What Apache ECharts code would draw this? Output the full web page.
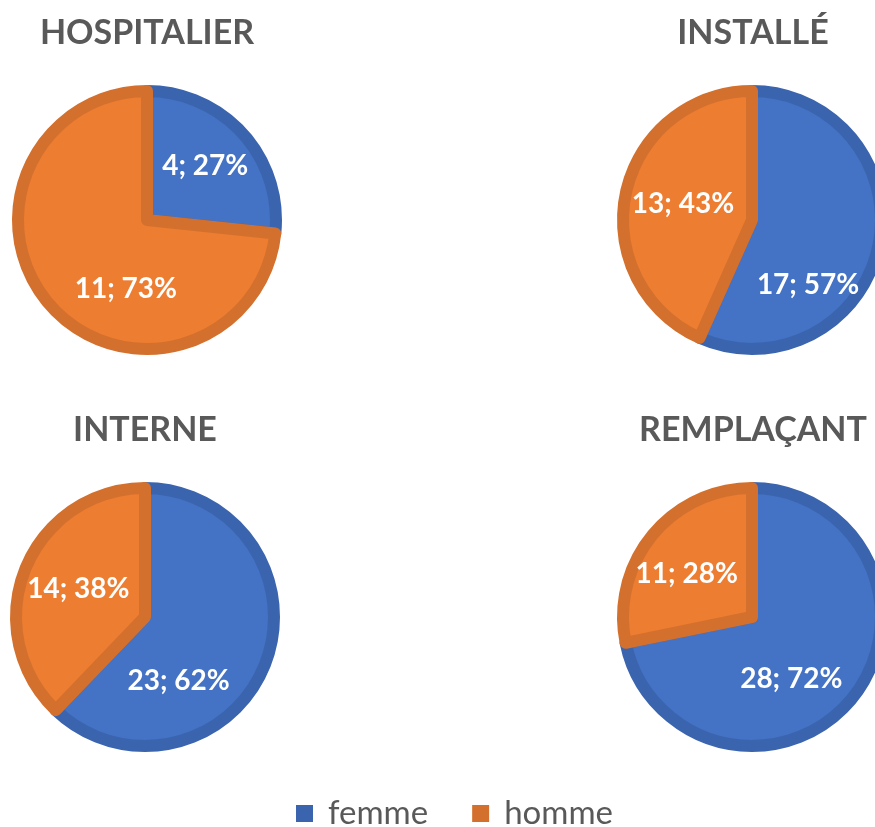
<!DOCTYPE html>
<html>
<head>
<meta charset="utf-8">
<script src="https://cdn.jsdelivr.net/npm/echarts@6/dist/echarts.min.js"></script>
<style>
  html, body { margin: 0; padding: 0; background: #fff; }
  #chart { width: 875px; height: 827px; }
</style>
</head>
<body>
<div id="chart"></div>
<script>
// données
const groups = ['HOSPITALIER', 'INSTALLÉ', 'INTERNE', 'REMPLAÇANT']
const sexes = ['femme', 'homme']
const femme = [4, 17, 23, 28]
const homme = [11, 13, 14, 11]

// mise en page
const centers = [[147, 220], [752, 220], [145, 617], [752, 617]]
const titleLefts = [142, 748, 140, 748]
const titleTops = [11, 11, 408, 408]
// décalage des étiquettes (placement "ajustement optimal" d'Excel)
const labelOffsets = [
  [[8, -9], [29, 24]],
  [[-10, 51], [-3, -2]],
  [[-29, 39], [-4, -3]],
  [[-13, 19], [-13, 0]],
]

const fills = { femme: '#4472C4', homme: '#ED7D31' }
const borders = { femme: '#3B64AE', homme: '#D4702D' }
const FONT = 'Lato, "Open Sans", sans-serif'

const chart = echarts.init(document.getElementById('chart'))

const option = {
  animation: false,
  backgroundColor: '#fff',
  title: groups.map((g, i) => ({
    text: g,
    left: titleLefts[i],
    top: titleTops[i],
    textAlign: 'center',
    textStyle: {
      fontFamily: FONT,
      fontWeight: 'bold',
      fontSize: 34,
      color: '#595959',
    },
  })),
  legend: {
    top: 792,
    left: 291,
    itemWidth: 17,
    itemHeight: 17,
    itemGap: 44,
    icon: 'rect',
    data: sexes.map((s) => ({
      name: s,
      itemStyle: { color: borders[s], borderWidth: 0 },
    })),
    textStyle: {
      fontFamily: FONT,
      fontSize: 33,
      color: '#595959',
      padding: [0, 0, 0, 10],
    },
  },
  series: groups.map((g, i) => ({
    name: g,
    type: 'pie',
    center: centers[i],
    radius: 129,
    startAngle: 90,
    clockwise: true,
    percentPrecision: 0,
    avoidLabelOverlap: false,
    labelLine: { show: false },
    label: {
      show: true,
      position: 'inside',
      formatter: '{c}; {d}%',
      fontFamily: FONT,
      fontWeight: 'bold',
      fontSize: 28,
      color: '#fff',
    },
    emphasis: { disabled: true },
    data: [
      {
        name: 'femme',
        value: femme[i],
        itemStyle: { color: fills.femme, borderColor: borders.femme, borderWidth: 12 },
        label: { offset: labelOffsets[i][0] },
      },
      {
        name: 'homme',
        value: homme[i],
        itemStyle: { color: fills.homme, borderColor: borders.homme, borderWidth: 12 },
        label: { offset: labelOffsets[i][1] },
      },
    ],
  })),
}

chart.setOption(option)
</script>
</body>
</html>
